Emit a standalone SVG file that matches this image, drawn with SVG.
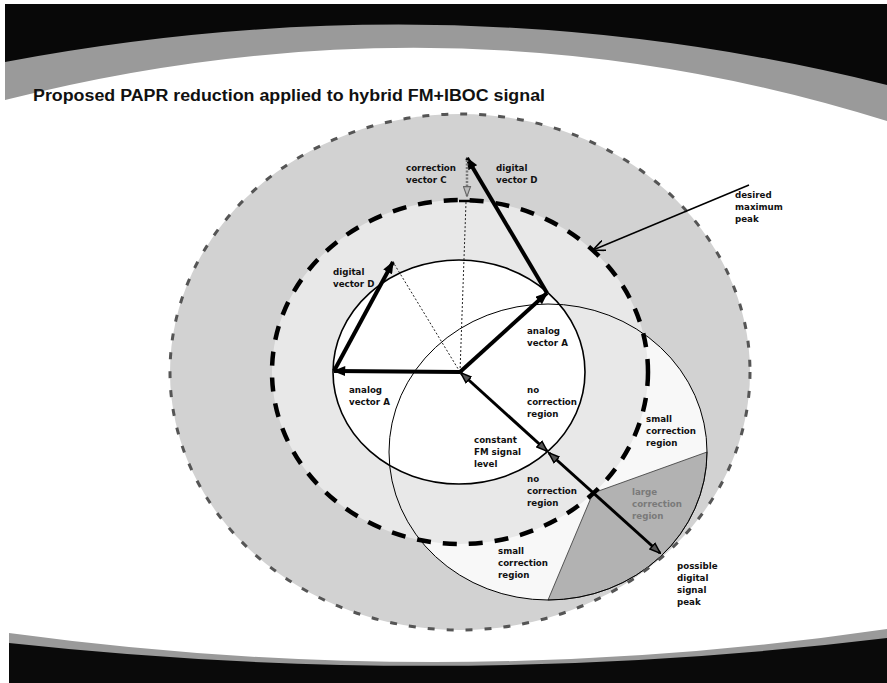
<svg xmlns="http://www.w3.org/2000/svg" width="887" height="683" viewBox="0 0 887 683">
<style>
.lbl{font-family:"DejaVu Sans",Verdana,sans-serif;font-weight:bold;font-size:8.7px;fill:#111}
.lblg{font-family:"DejaVu Sans",Verdana,sans-serif;font-weight:bold;font-size:8.7px;fill:#7a7a7a}
.title{font-family:"Liberation Sans",Arial,sans-serif;font-weight:bold;font-size:16px;fill:#111}
.vec{stroke:#000;stroke-width:4;fill:none}
.dbl{stroke:#000;stroke-width:3;fill:none}
.dot{stroke:#222;stroke-width:1;stroke-dasharray:2 2;fill:none}
</style>
<defs>
<marker id="ah" viewBox="0 0 10 8" refX="9" refY="4" markerWidth="13" markerHeight="10" markerUnits="userSpaceOnUse" orient="auto">
<path d="M0,0 L10,4 L0,8 Z" fill="#000"/>
</marker>
<marker id="ahd" viewBox="0 0 10 8" refX="9" refY="4" markerWidth="12" markerHeight="10" markerUnits="userSpaceOnUse" orient="auto-start-reverse">
<path d="M0.5,0.8 L9.5,4 L0.5,7.2 Z" fill="#555" stroke="#000" stroke-width="1.2"/>
</marker>
<marker id="ahg" viewBox="0 0 10 8" refX="9" refY="4" markerWidth="11" markerHeight="9" markerUnits="userSpaceOnUse" orient="auto">
<path d="M0.5,0.8 L9.5,4 L0.5,7.2 Z" fill="#bbb" stroke="#666" stroke-width="1"/>
</marker>
<marker id="av" viewBox="0 0 12 10" refX="11" refY="5" markerWidth="13" markerHeight="11" markerUnits="userSpaceOnUse" orient="auto">
<path d="M0,0 L11,5 L0,10" fill="none" stroke="#000" stroke-width="1.5"/>
</marker>
</defs>

<rect x="0" y="0" width="887" height="683" fill="#fff"/>

<g id="background">
<path d="M5,4 H887 V121 Q456,-14 5,100 Z" fill="#9a9a9a"/>
<path d="M5,4 H887 V85 Q456,-23 5,62 Z" fill="#080808"/>
<path d="M9,633 Q450,693 887,629 V683 H9 Z" fill="#9a9a9a"/>
<path d="M9,643 Q450,691 887,638 V683 H9 Z" fill="#0a0a0a"/>
</g>

<text id="title" class="title" x="33" y="101" textLength="512" lengthAdjust="spacingAndGlyphs">Proposed PAPR reduction applied to hybrid FM+IBOC signal</text>

<g id="outer-ring">
<ellipse cx="460" cy="372" rx="290" ry="258" fill="#d2d2d2"/>
</g>
<g id="digital-region">
<ellipse cx="548" cy="452" rx="159" ry="148" fill="#f8f8f8"/>
</g>
<g id="desired-peak-circle-fill">
<ellipse cx="460" cy="372" rx="188" ry="172" fill="#e8e8e8"/>
</g>
<g id="large-correction-region">
<path d="M593,493 L707,452 A159,148 0 0,1 548,600 Z" fill="#b2b2b2" stroke="#333" stroke-width="0.8"/>
</g>
<g id="fm-level-circle">
<ellipse cx="459" cy="372" rx="126" ry="112" fill="#fff" stroke="#000" stroke-width="1.6"/>
</g>
<g id="digital-circle">
<ellipse cx="548" cy="452" rx="159" ry="148" fill="none" stroke="#000" stroke-width="1"/>
</g>
<g id="desired-peak-circle">
<ellipse cx="460" cy="372" rx="188" ry="172" fill="none" stroke="#000" stroke-width="4.5" stroke-dasharray="14 12"/>
</g>
<g id="outer-boundary">
<ellipse cx="460" cy="372" rx="290" ry="258" fill="none" stroke="#555" stroke-width="3" stroke-dasharray="7 12"/>
</g>

<g id="connectors">
<line class="dot" x1="460" y1="372" x2="466" y2="202"/>
<line class="dot" x1="460" y1="372" x2="393" y2="262"/>
<line class="vec" x1="460" y1="372" x2="547" y2="293" marker-end="url(#ah)"/>
<line class="vec" x1="547" y1="293" x2="467" y2="158" marker-end="url(#ah)"/>
<line x1="467" y1="160" x2="467" y2="196" stroke="#777" stroke-width="2.5" stroke-dasharray="2 1.5" marker-end="url(#ahg)"/>
<line x1="459" y1="201" x2="474" y2="201" stroke="#000" stroke-width="2.5"/>
<line class="vec" x1="460" y1="372" x2="334" y2="371" marker-end="url(#ah)"/>
<line class="vec" x1="334" y1="371" x2="393" y2="262" marker-end="url(#ah)"/>
<line class="dbl" x1="461" y1="373" x2="547" y2="451" marker-start="url(#ahd)" marker-end="url(#ahd)"/>
<line class="dbl" x1="549" y1="453" x2="660" y2="553" marker-start="url(#ahd)" marker-end="url(#ahd)"/>
<line x1="749" y1="185" x2="593" y2="250" stroke="#000" stroke-width="1.5" marker-end="url(#av)"/>
</g>

<g id="labels">
<text class="lbl" x="406" y="171">correction</text>
<text class="lbl" x="406" y="183">vector C</text>
<text class="lbl" x="496" y="171">digital</text>
<text class="lbl" x="496" y="183">vector D</text>
<text class="lbl" x="333" y="275">digital</text>
<text class="lbl" x="333" y="287">vector D</text>
<text class="lbl" x="527" y="334">analog</text>
<text class="lbl" x="527" y="346">vector A</text>
<text class="lbl" x="349" y="393">analog</text>
<text class="lbl" x="349" y="405">vector A</text>
<text class="lbl" x="527" y="393">no</text>
<text class="lbl" x="527" y="405">correction</text>
<text class="lbl" x="527" y="417">region</text>
<text class="lbl" x="474" y="443">constant</text>
<text class="lbl" x="474" y="455">FM signal</text>
<text class="lbl" x="474" y="467">level</text>
<text class="lbl" x="527" y="482">no</text>
<text class="lbl" x="527" y="494">correction</text>
<text class="lbl" x="527" y="506">region</text>
<text class="lbl" x="646" y="422">small</text>
<text class="lbl" x="646" y="434">correction</text>
<text class="lbl" x="646" y="446">region</text>
<text class="lblg" x="632" y="495">large</text>
<text class="lblg" x="632" y="507">correction</text>
<text class="lblg" x="632" y="519">region</text>
<text class="lbl" x="498" y="554">small</text>
<text class="lbl" x="498" y="566">correction</text>
<text class="lbl" x="498" y="578">region</text>
<text class="lbl" x="677" y="569">possible</text>
<text class="lbl" x="677" y="581">digital</text>
<text class="lbl" x="677" y="593">signal</text>
<text class="lbl" x="677" y="605">peak</text>
<text class="lbl" x="735" y="198">desired</text>
<text class="lbl" x="735" y="210">maximum</text>
<text class="lbl" x="735" y="222">peak</text>
</g>
</svg>
